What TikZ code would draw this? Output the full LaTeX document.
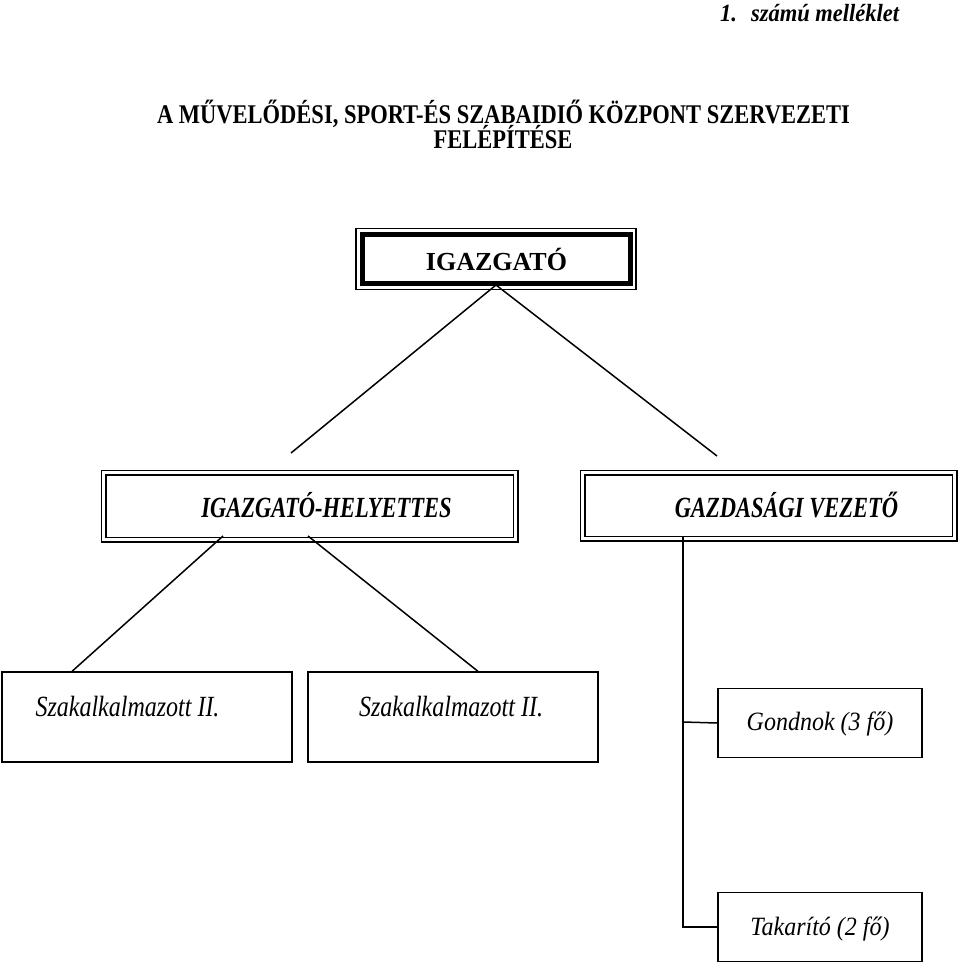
\documentclass[tikz,border=0pt]{standalone}
\usepackage{graphicx}
\usepackage{fontspec}
\setmainfont{Liberation Serif}
\newcommand{\vstretch}[2]{\scalebox{1}[#1]{#2}}
\begin{document}
\begin{tikzpicture}[x=1pt,y=-1pt,
  box/.style={draw,line width=1.3pt,inner sep=0pt},
  dbox/.style={draw,double,line width=1.3pt,double distance=3.4pt,inner sep=0pt},
  thinbox/.style={draw,line width=1.1pt,inner sep=0pt},
  thickbox/.style={draw,line width=5pt,inner sep=0pt},
  conn/.style={line width=1.5pt},
  txt/.style={inner sep=0pt,anchor=base},
  ]
\useasboundingbox (0,0) rectangle (960,964);
% annotation and title
\node[txt,anchor=base west,font=\fontsize{22.5}{26}\selectfont\bfseries\itshape] (ann) at (720,21) {\vstretch{1.1}{1.\hspace{14pt}számú melléklet}};
\node[txt,font=\fontsize{22.5}{26}\selectfont\bfseries] (title1) at (503.5,123) {\vstretch{1.2}{A MŰVELŐDÉSI, SPORT-ÉS SZABAIDIŐ KÖZPONT SZERVEZETI}};
\node[txt,font=\fontsize{22.5}{26}\selectfont\bfseries] (title2) at (503,148) {\vstretch{1.2}{FELÉPÍTÉSE}};
% connector coordinates
\coordinate (apex) at (496,285);
\coordinate (l1) at (291,453);
\coordinate (r1) at (717,456);
\coordinate (ihl) at (223,536);
\coordinate (ihr) at (308,536);
\coordinate (gvb) at (683,536);
\coordinate (gvm) at (683,722);
\coordinate (gve) at (683,927);
% boxes
\node[thinbox,minimum width=280,minimum height=61] (ig) at (496,259) {};
\node[thickbox,minimum width=268,minimum height=49] (igin) at (496,259) {};
\node[txt,font=\fontsize{26}{30}\selectfont\bfseries] (igt) at (496.5,270) {IGAZGATÓ};
\node[dbox,minimum width=412,minimum height=67] (ih) at (309.5,506) {};
\node[txt,font=\fontsize{22.5}{26}\selectfont\bfseries\itshape] (iht) at (326.5,517) {\vstretch{1.3}{IGAZGATÓ-HELYETTES}};
\node[dbox,minimum width=372,minimum height=66] (gv) at (768.5,505.5) {};
\node[txt,font=\fontsize{22.5}{26}\selectfont\bfseries\itshape] (gvt) at (786.5,517) {\vstretch{1.3}{GAZDASÁGI VEZETŐ}};
\node[box,minimum width=290,minimum height=90] (sz1) at (147,717) {};
\node[txt,font=\fontsize{24}{28}\selectfont\itshape] (sz1t) at (127.5,716) {\vstretch{1.22}{Szakalkalmazott II.}};
\node[box,minimum width=290,minimum height=90] (sz2) at (453,717) {};
\node[txt,font=\fontsize{24}{28}\selectfont\itshape] (sz2t) at (451,716) {\vstretch{1.22}{Szakalkalmazott II.}};
\node[box,minimum width=204,minimum height=69] (go) at (820,723) {};
\node[txt,font=\fontsize{24}{28}\selectfont\itshape] (got) at (820,730) {\vstretch{1.1}{Gondnok (3 fő)}};
\node[box,minimum width=204,minimum height=69] (ta) at (820,927) {};
\node[txt,font=\fontsize{24}{28}\selectfont\itshape] (tat) at (820,935) {\vstretch{1.1}{Takarító (2 fő)}};
% connectors
\draw[conn] (apex) -- (l1);
\draw[conn] (apex) -- (r1);
\draw[conn] (ihl) -- (sz1.north -| 72,0);
\draw[conn] (ihr) -- (sz2.north -| 478,0);
\draw[conn] (gvb) -- (gve) -- (ta.west);
\draw[conn] (gvm) -- (go.west);
\end{tikzpicture}
\end{document}
